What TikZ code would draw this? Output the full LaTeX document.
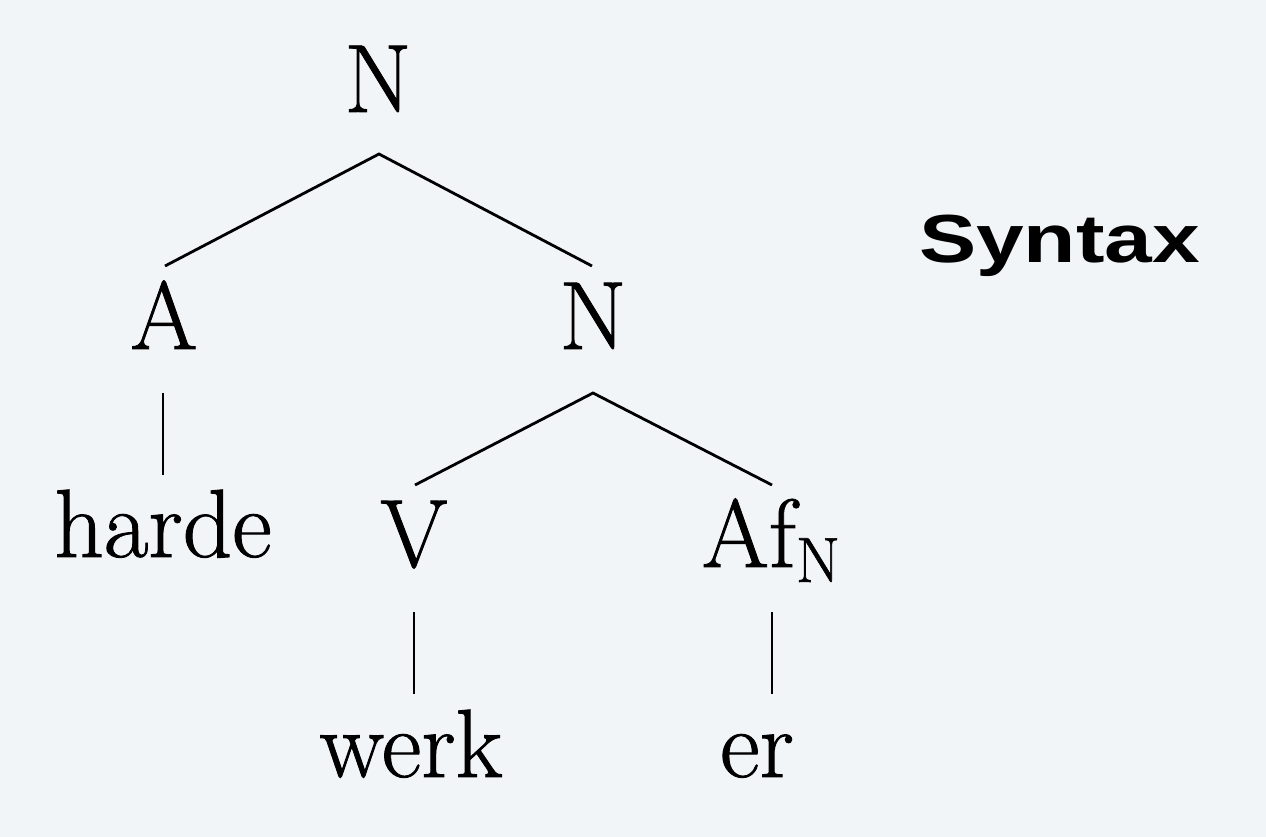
\documentclass[tikz,border=0pt]{standalone}
\usepackage{fontspec}
\usepackage{graphicx}
\newfontfamily\labelsans{Liberation Sans}
\newfontfamily\treefont{lmroman17-regular}[Extension=.otf, FakeBold=0.9]
\usetikzlibrary{calc}
\definecolor{bgcol}{RGB}{242,245,248}
\tikzset{
  lbl/.style={inner sep=0pt, anchor=base, font=\treefont\fontsize{97}{97}\selectfont},
  edge/.style={line width=2.8pt, black},
}
\begin{document}
\begin{tikzpicture}[x=1pt,y=-1pt]
\fill[bgcol] (0,0) rectangle (1266,837);
\useasboundingbox (0,0) rectangle (1266,837);
% nodes
\node[lbl] (N1) at (378,112) {N};
\node[lbl] (A) at (164,349) {A};
\node[lbl] (N2) at (593,349) {N};
\node[lbl] (harde) at (163,557) {harde};
\node[lbl] (V) at (414,567) {V};
\node[lbl] (Af) at (771,567) {Af\raisebox{-15pt}{\fontsize{64}{64}\selectfont N}};
\node[lbl] (werk) at (411,777) {werk};
\node[lbl] (er) at (757,777) {er};
\node[inner sep=0pt, anchor=base west, font=\labelsans\bfseries\fontsize{68}{68}\selectfont] (syn) at (919,262) {\scalebox{1.26}[1]{Syntax}};
% connector end points
\coordinate (N1s) at ($(N1.base)+(1,42)$);
\coordinate (An) at ($(A.base)+(1,-83)$);
\coordinate (N2n) at ($(N2.base)+(-1,-83)$);
\coordinate (As) at ($(A.base)+(-1,44)$);
\coordinate (harden) at ($(harde.base)+(0,-82)$);
\coordinate (N2s) at ($(N2.base)+(0,44)$);
\coordinate (Vn) at ($(V.base)+(1,-82)$);
\coordinate (Afn) at ($(Af.base)+(1,-82)$);
\coordinate (Vs) at ($(V.base)+(0,45)$);
\coordinate (werkn) at ($(werk.base)+(3,-83)$);
\coordinate (Afs) at ($(Af.base)+(1,45)$);
\coordinate (ern) at ($(er.base)+(15,-83)$);
% connectors
\draw[edge] (An) -- (N1s) -- (N2n);
\draw[edge] (As) -- (harden);
\draw[edge] (Vn) -- (N2s) -- (Afn);
\draw[edge] (Vs) -- (werkn);
\draw[edge] (Afs) -- (ern);
\end{tikzpicture}
\end{document}
